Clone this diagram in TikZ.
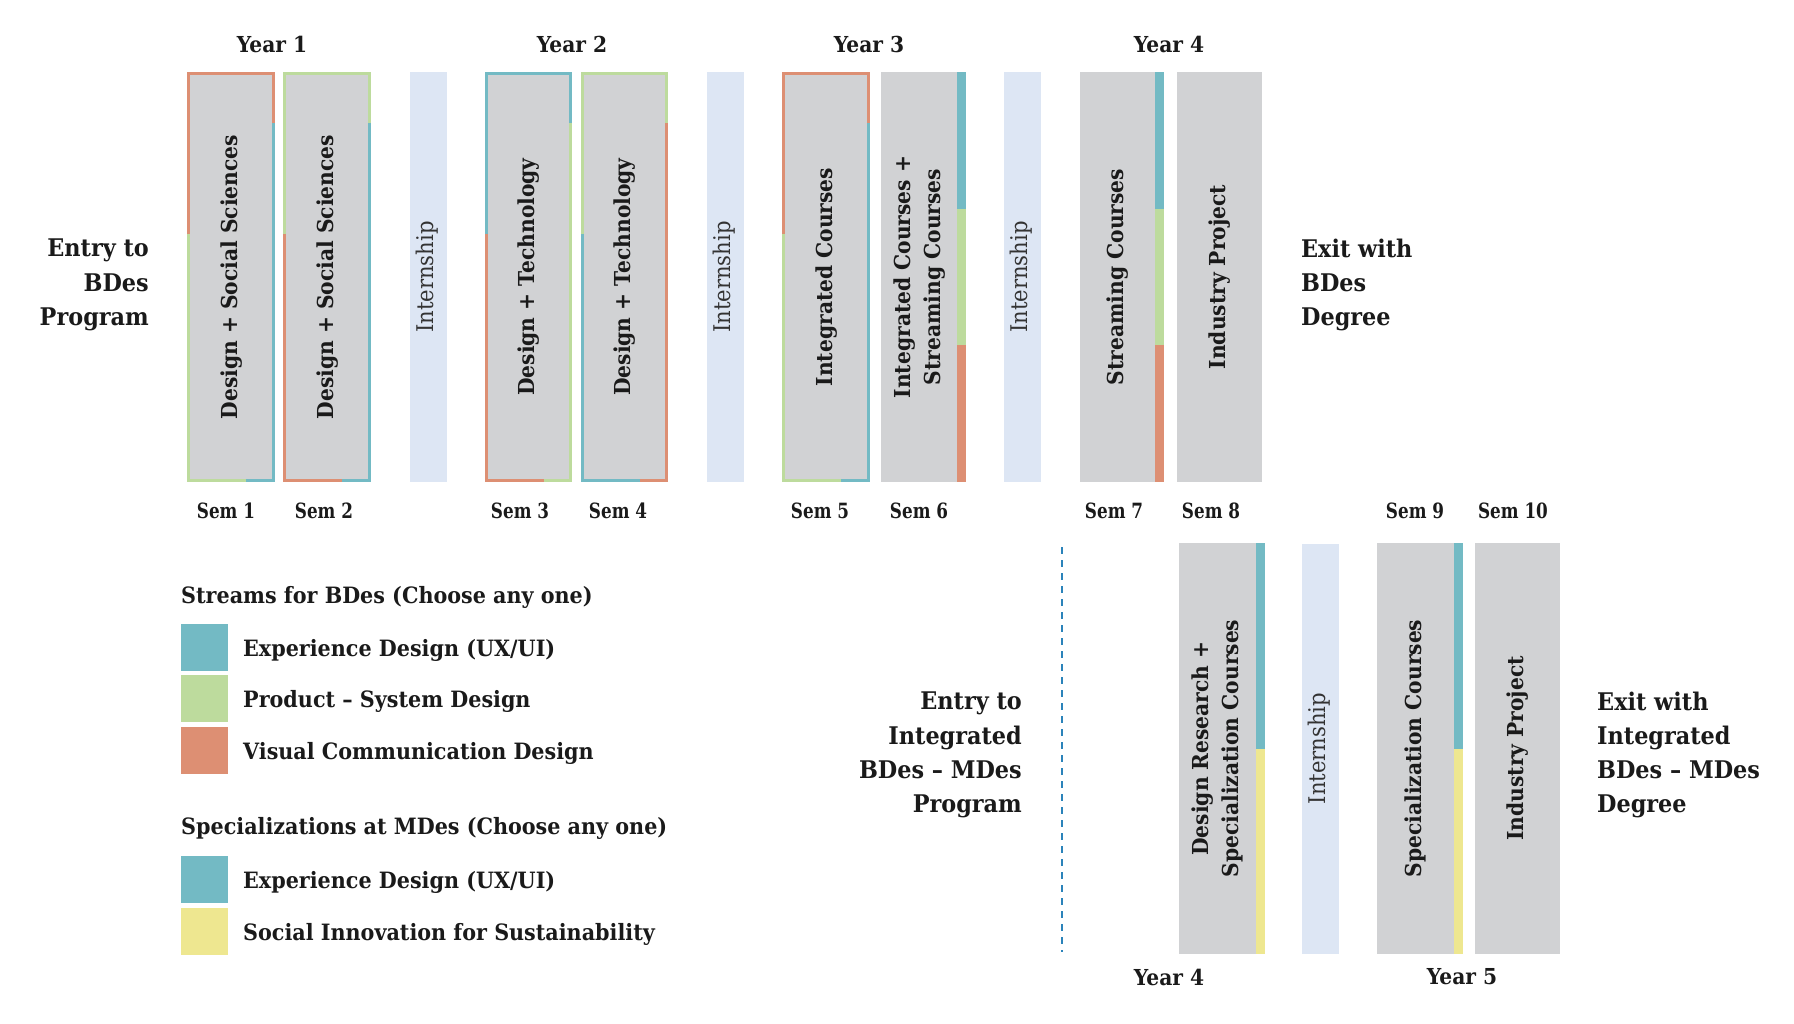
\documentclass[tikz,border=0pt]{standalone}
\usepackage{fontspec}
\setmainfont{DejaVu Serif}[FakeStretch=0.92]
\newfontfamily\semfont{DejaVu Serif}[FakeStretch=0.8]
\usetikzlibrary{calc}

\definecolor{boxgray}{HTML}{D1D2D4}
\definecolor{intblue}{HTML}{DDE6F4}
\definecolor{uxblue}{HTML}{73BAC4}
\definecolor{prodgreen}{HTML}{BDDB9D}
\definecolor{vcorange}{HTML}{DD8F73}
\definecolor{sisyellow}{HTML}{EEE790}
\definecolor{dashblue}{HTML}{2B83BA}
\definecolor{inkblack}{HTML}{1A1A1A}

\newcommand{\vtext}[1]{\rotatebox{90}{\begin{tabular}{@{}c@{}}#1\end{tabular}}}

% frame of a semester box: top colour, lower left colour, lower right colour
\newcommand{\semframe}[4]{%
  \draw[semedge, #2] ([shift={(1.6,162)}]#1.north west) -- ([shift={(1.6,1.6)}]#1.north west)
    -- ([shift={(-1.6,1.6)}]#1.north east) -- ([shift={(-1.6,51)}]#1.north east);
  \draw[semedge, #3] ([shift={(1.6,162)}]#1.north west) -- ([shift={(1.6,-1.6)}]#1.south west)
    -- ([shift={(59,-1.6)}]#1.south west);
  \draw[semedge, #4] ([shift={(59,-1.6)}]#1.south west) -- ([shift={(-1.6,-1.6)}]#1.south east)
    -- ([shift={(-1.6,51)}]#1.north east);
}

% stream stripe on the right of a box
\newcommand{\threestripe}[1]{%
  \fill[uxblue] (#1.north east) rectangle ($(#1.north east)!1/3!(#1.south east)+(9,0)$);
  \fill[prodgreen] ($(#1.north east)!1/3!(#1.south east)$) rectangle ($(#1.north east)!2/3!(#1.south east)+(9,0)$);
  \fill[vcorange] ($(#1.north east)!2/3!(#1.south east)$) rectangle ($(#1.south east)+(9,0)$);
}
\newcommand{\twostripe}[1]{%
  \fill[uxblue] (#1.north east) rectangle ($(#1.north east)!1/2!(#1.south east)+(8.5,0)$);
  \fill[sisyellow] ($(#1.north east)!1/2!(#1.south east)$) rectangle ($(#1.south east)+(8.5,0)$);
}

\begin{document}
\begin{tikzpicture}[x=1pt,y=-1pt,
  course/.style={fill=boxgray, minimum width=88pt, minimum height=410pt, inner sep=0pt,
    text=inkblack, font=\bfseries\fontsize{22}{30}\selectfont},
  intern/.style={fill=intblue, minimum width=37pt, minimum height=410pt, inner sep=0pt,
    text=black!80, font=\fontsize{23}{26}\selectfont},
  semedge/.style={line width=3.2pt},
  semlabel/.style={inner sep=0pt, text=inkblack, font=\semfont\bfseries\fontsize{21}{24}\selectfont},
  yearlabel/.style={inner sep=0pt, text=inkblack, font=\bfseries\fontsize{22}{24}\selectfont},
  sidetext/.style={inner sep=0pt, text=inkblack, font=\bfseries\fontsize{24.3}{34.3}\selectfont},
  legendtext/.style={inner sep=0pt, text=inkblack, font=\bfseries\fontsize{22.5}{26}\selectfont},
  key/.style={minimum size=47pt, inner sep=0pt},
  dashline/.style={dashblue, line width=1.8pt, dash pattern=on 7pt off 6pt}]
\useasboundingbox (0,0) rectangle (1794,1023);

% BDes semesters
\node (s1) at (231,277) [course] {\vtext{Design + Social Sciences}};
\node (s2) at (327,277) [course] {\vtext{Design + Social Sciences}};
\node (i1) at (428.5,277) [intern] {\vtext{Internship}};
\node (s3) at (528.5,277) [course, minimum width=87pt] {\vtext{Design + Technology}};
\node (s4) at (624.5,277) [course, minimum width=87pt] {\vtext{Design + Technology}};
\node (i2) at (725.5,277) [intern] {\vtext{Internship}};
\node (s5) at (826,277) [course] {\vtext{Integrated Courses}};
\node (s6) at (919,277) [course, minimum width=76pt] {\vtext{Integrated Courses +\\Streaming Courses}};
\node (i3) at (1022.5,277) [intern] {\vtext{Internship}};
\node (s7) at (1117.5,277) [course, minimum width=75pt] {\vtext{Streaming Courses}};
\node (s8) at (1219.5,277) [course, minimum width=85pt] {\vtext{Industry Project}};

\semframe{s1}{vcorange}{prodgreen}{uxblue}
\semframe{s2}{prodgreen}{vcorange}{uxblue}
\semframe{s3}{uxblue}{vcorange}{prodgreen}
\semframe{s4}{prodgreen}{uxblue}{vcorange}
\semframe{s5}{vcorange}{prodgreen}{uxblue}
\threestripe{s6}
\threestripe{s7}

% MDes semesters
\node (s9) at (1217.5,748.5) [course, minimum width=77pt, minimum height=411pt] {\vtext{Design Research +\\Specialization Courses}};
\node (i4) at (1320.5,748.5) [intern] {\vtext{Internship}};
\node (s10) at (1415.5,748.5) [course, minimum width=77pt, minimum height=411pt] {\vtext{Specialization Courses}};
\node (s11) at (1517.5,748.5) [course, minimum width=85pt, minimum height=411pt] {\vtext{Industry Project}};
\twostripe{s9}
\twostripe{s10}

% years and semesters
\node (y1) at (272,44) [yearlabel] {Year 1};
\node (y2) at (572,44) [yearlabel] {Year 2};
\node (y3) at (869,44) [yearlabel] {Year 3};
\node (y4) at (1169,44) [yearlabel] {Year 4};
\node (y4b) at (1169,977) [yearlabel] {Year 4};
\node (y5) at (1462,977) [yearlabel] {Year 5};

\node (sem1) at (226,511) [semlabel] {Sem 1};
\node (sem2) at (324,511) [semlabel] {Sem 2};
\node (sem3) at (520,511) [semlabel] {Sem 3};
\node (sem4) at (618,511) [semlabel] {Sem 4};
\node (sem5) at (820,511) [semlabel] {Sem 5};
\node (sem6) at (919,511) [semlabel] {Sem 6};
\node (sem7) at (1114,511) [semlabel] {Sem 7};
\node (sem8) at (1211,511) [semlabel] {Sem 8};
\node (sem9) at (1415,511) [semlabel] {Sem 9};
\node (sem10) at (1513,511) [semlabel] {Sem 10};

% entry and exit
\node (entry) at (149,285) [sidetext, anchor=east, align=right] {Entry to\\BDes\\Program};
\node (exit) at (1301,285) [sidetext, anchor=west, align=left] {Exit with\\BDes\\Degree};
\node (entry2) at (1022,755) [sidetext, anchor=east, align=right] {Entry to\\Integrated\\BDes – MDes\\Program};
\node (exit2) at (1597,755) [sidetext, anchor=west, align=left] {Exit with\\Integrated\\BDes – MDes\\Degree};

\coordinate (dtop) at (1062,547);
\coordinate (dbot) at (1062,952);
\draw[dashline] (dtop) -- (dbot);

% legend
\node (streams) at (181,603) [legendtext, anchor=base west] {Streams for BDes (Choose any one)};
\node (k1) at (204.5,647.5) [key, fill=uxblue] {};
\node (k2) at (204.5,698.5) [key, fill=prodgreen] {};
\node (k3) at (204.5,750.5) [key, fill=vcorange] {};
\node (l1) at (243,656) [legendtext, anchor=base west] {Experience Design (UX/UI)};
\node (l2) at (243,707) [legendtext, anchor=base west] {Product – System Design};
\node (l3) at (243,759) [legendtext, anchor=base west] {Visual Communication Design};

\node (specs) at (181,834) [legendtext, anchor=base west] {Specializations at MDes (Choose any one)};
\node (k4) at (204.5,879.5) [key, fill=uxblue] {};
\node (k5) at (204.5,931.5) [key, fill=sisyellow] {};
\node (l4) at (243,888) [legendtext, anchor=base west] {Experience Design (UX/UI)};
\node (l5) at (243,940) [legendtext, anchor=base west] {Social Innovation for Sustainability};
\end{tikzpicture}
\end{document}
